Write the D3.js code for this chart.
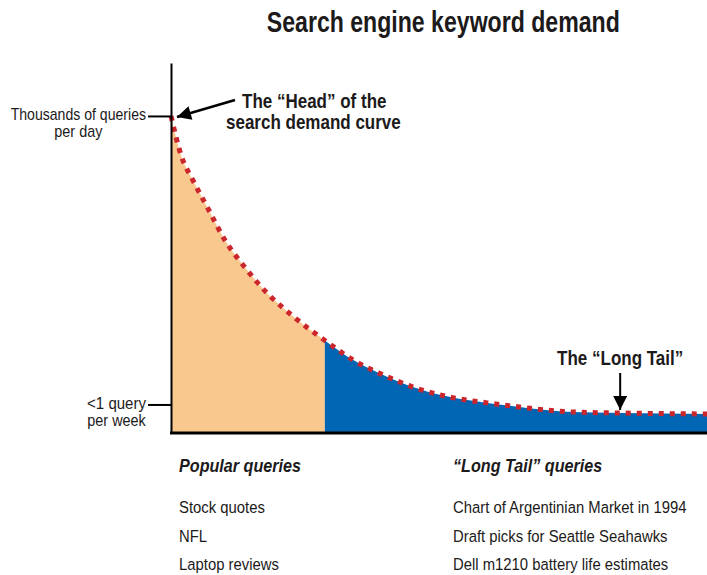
<!DOCTYPE html>
<html>
<head>
<meta charset="utf-8">
<script src="https://cdn.jsdelivr.net/npm/d3@7"></script>
<style>
  body { margin: 0; background: #fff; }
  text { font-family: "Liberation Sans", Arial, sans-serif; fill: #1c1a1a; }
</style>
</head>
<body>
<div id="chart"></div>
<script>
// keyword rank (0 = most searched) and relative search demand
var ranks  = [0, 2, 4, 7, 10, 14, 18, 23, 28.7, 34, 40, 46, 53, 59, 65, 74, 84, 100];
var demand = [100, 87, 80, 70.5, 61, 51.8, 44, 36.5, 29.2, 23, 18, 14, 11, 9.5, 8.2, 6.7, 6.3, 6.0];
var popularCutoff = 28.7;
var tailPointer = 83.8;

var yTicks = [100, 9];
var yTickLabels = [["Thousands of queries", "per day"], ["<1 query", "per week"]];

var title = "Search engine keyword demand";
var headLabel = ["The \u201cHead\u201d of the", "search demand curve"];
var tailLabel = "The \u201cLong Tail\u201d";
var popularTitle = "Popular queries";
var popularQueries = ["Stock quotes", "NFL", "Laptop reviews"];
var longTailTitle = "\u201cLong Tail\u201d queries";
var longTailQueries = ["Chart of Argentinian Market in 1994", "Draft picks for Seattle Seahawks", "Dell m1210 battery life estimates"];

var W = 707, H = 575;
var margin = {top: 63, right: 0, bottom: 142, left: 171},
    width = W - margin.left - margin.right,
    height = H - margin.top - margin.bottom;

var svg = d3.select("#chart").append("svg")
    .attr("width", W)
    .attr("height", H);

// arrow head
svg.append("defs").append("marker")
    .attr("id", "arrow")
    .attr("viewBox", "0 0 10 10")
    .attr("refX", 10).attr("refY", 5)
    .attr("markerUnits", "userSpaceOnUse")
    .attr("markerWidth", 15).attr("markerHeight", 14)
    .attr("orient", "auto")
  .append("path")
    .attr("d", "M0,0L10,5L0,10Z")
    .attr("fill", "#000");

var g = svg.append("g")
    .attr("transform", "translate(" + margin.left + "," + margin.top + ")");

var x = d3.scaleLinear().domain([0, 100]).range([0, width]);
var y = d3.scaleLinear().domain([0, 116.7]).range([height, 0]);

var data = ranks.map(function(r, i) { return {rank: r, value: demand[i]}; });

// text squeezed horizontally (k) so it looks like a condensed face
function label(parent, px, py, str, size, k, opts) {
  opts = opts || {};
  var t = parent.append("text")
      .attr("transform", "translate(" + px + "," + py + ") scale(" + k + ",1)")
      .attr("text-anchor", opts.anchor || "start")
      .attr("font-size", size)
      .attr("font-weight", opts.weight || "normal")
      .attr("font-style", opts.style || "normal")
      .text(str);
  return t;
}

function valueAt(r) {
  var i = d3.bisectRight(ranks, r) - 1;
  i = Math.max(0, Math.min(i, ranks.length - 2));
  var t = (r - ranks[i]) / (ranks[i + 1] - ranks[i]);
  return demand[i] + t * (demand[i + 1] - demand[i]);
}

var area = d3.area()
    .x(function(d) { return x(d.rank); })
    .y0(height)
    .y1(function(d) { return y(d.value); })
    .curve(d3.curveMonotoneX);

var line = d3.line()
    .x(function(d) { return x(d.rank); })
    .y(function(d) { return y(d.value); })
    .curve(d3.curveMonotoneX);

g.append("path")
    .datum(data.filter(function(d) { return d.rank <= popularCutoff; }))
    .attr("fill", "#f9c88f")
    .attr("d", area);

g.append("path")
    .datum(data.filter(function(d) { return d.rank >= popularCutoff; }))
    .attr("fill", "#0066b3")
    .attr("d", area);

g.append("path")
    .datum(data)
    .attr("fill", "none")
    .attr("stroke", "#cc262d")
    .attr("stroke-width", 5)
    .attr("stroke-dasharray", "5 6")
    .attr("d", line);

// axes
var yAxis = g.append("g")
    .call(d3.axisLeft(y).tickValues(yTicks).tickSize(23).tickSizeOuter(0).tickFormat(""));
yAxis.selectAll("path, line").attr("stroke", "#000").attr("stroke-width", 2);

var xAxis = g.append("g")
    .attr("transform", "translate(0," + height + ")")
    .call(d3.axisBottom(x).tickValues([]).tickSizeOuter(0));
xAxis.select(".domain").attr("stroke", "#000").attr("stroke-width", 3);
xAxis.select(".domain").attr("d", "M-1,0H" + width);

// y tick labels, two lines each
yTicks.forEach(function(v, i) {
  var lines = yTickLabels[i];
  var k1 = i === 0 ? 0.88 : 0.94;
  var t1 = label(g, -25, y(v) + 4.5, lines[0], 16, k1, {anchor: "end"});
  var w1 = t1.node().getComputedTextLength() * k1;
  label(g, -25 - w1 / 2, y(v) + 21.5, lines[1], 16, 0.9, {anchor: "middle"});
});

// title
label(svg, margin.left + width * 0.508, 32, title, 30, 0.77, {anchor: "middle", weight: "bold"});

// head annotation
var hx = x(0), hy = y(100);
g.append("line")
    .attr("x1", hx + 64).attr("y1", hy - 16)
    .attr("x2", hx + 6).attr("y2", hy + 1)
    .attr("stroke", "#000").attr("stroke-width", 2.5)
    .attr("marker-end", "url(#arrow)");

headLabel.forEach(function(s, i) {
  label(g, hx + (i === 0 ? 71 : 55), hy - 8 + i * 21, s, 21, 0.81, {weight: "bold"});
});

// long tail annotation
var tx = x(tailPointer), ty = y(valueAt(tailPointer));
g.append("line")
    .attr("x1", tx).attr("y1", ty - 40)
    .attr("x2", tx).attr("y2", ty - 3)
    .attr("stroke", "#000").attr("stroke-width", 2)
    .attr("marker-end", "url(#arrow)");

label(g, tx, ty - 48, tailLabel, 21, 0.81, {anchor: "middle", weight: "bold"});

// query lists under the chart
function queryColumn(x0, heading, items) {
  label(g, x0, height + 39, heading, 19, 0.85, {weight: "bold", style: "italic"});
  items.forEach(function(d, i) {
    label(g, x0, height + 80 + i * 28.5, d, 16.5, 0.9);
  });
}
queryColumn(8, popularTitle, popularQueries);
queryColumn(282, longTailTitle, longTailQueries);
</script>
</body>
</html>
